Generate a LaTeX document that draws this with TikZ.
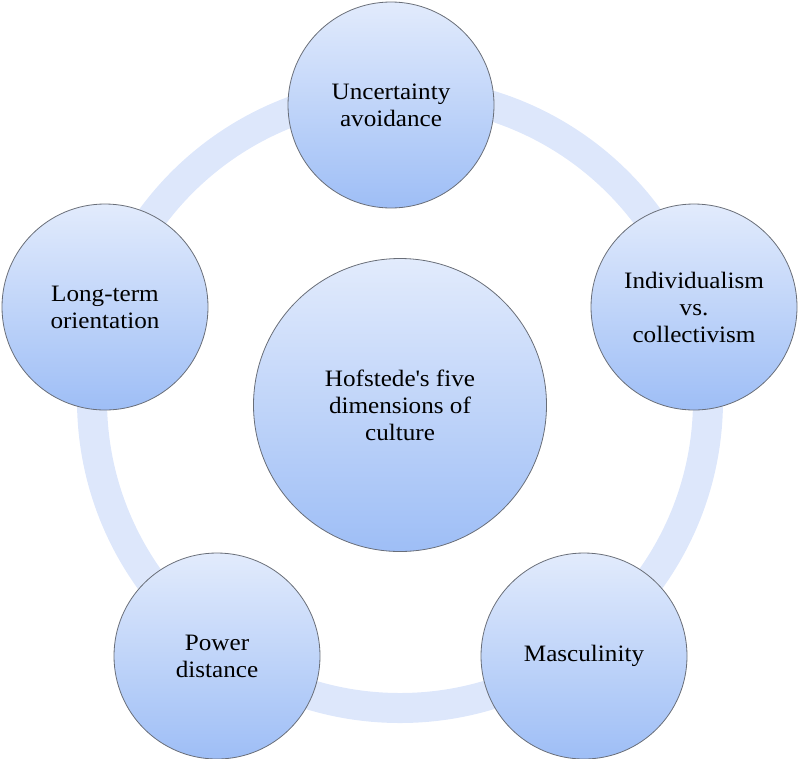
\documentclass[tikz,border=0pt]{standalone}
\usepackage{fontspec}
\setmainfont{Liberation Serif}[FakeStretch=1.07]
\begin{document}
\begin{tikzpicture}[x=1pt,y=-1pt]
  \definecolor{ringblue}{RGB}{221,231,251}
  \definecolor{topblue}{RGB}{226,235,252}
  \definecolor{botblue}{RGB}{158,190,246}
  \definecolor{rimgray}{RGB}{105,110,120}
  \tikzset{
    dimcircle/.style={circle, draw=rimgray, line width=0.8pt,
      top color=topblue, bottom color=botblue,
      minimum size=#1, inner sep=0pt, align=center,
      font=\fontsize{23.5}{27}\selectfont},
    dimcircle/.default=206pt
  }
  \useasboundingbox (0,0) rectangle (799,758);
  % connecting ring behind the circles
  \draw[ringblue, line width=30pt] (400,400) circle (308);
  % outer dimensions
  \node[dimcircle] (ua) at (391,105) {Uncertainty\\avoidance};
  \node[dimcircle] (ic) at (694,307) {Individualism\\vs.\\collectivism};
  \node[dimcircle] (ma) at (584,656) {Masculinity};
  \node[dimcircle] (pd) at (217,656) {Power\\distance};
  \node[dimcircle] (lt) at (105,307) {Long-term\\orientation};
  % central topic
  \node[dimcircle=293pt] (hc) at (400,405) {Hofstede\textquotesingle s five\\dimensions of\\culture};
\end{tikzpicture}
\end{document}
